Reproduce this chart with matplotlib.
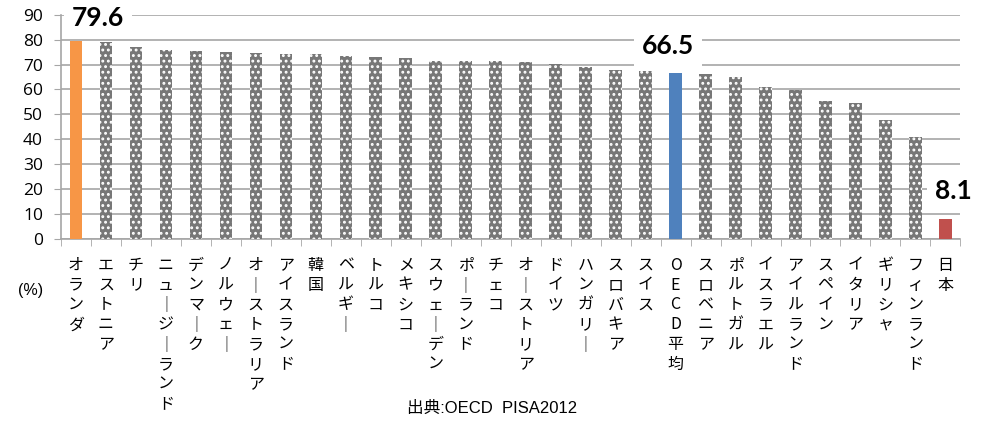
import numpy as np
import matplotlib
matplotlib.use('Agg')
import matplotlib.pyplot as plt

plt.rcParams['font.family'] = ['Noto Sans CJK JP', 'DejaVu Sans']
plt.rcParams['hatch.linewidth'] = 1.3

# data (%)
countries = ['オランダ', 'エストニア', 'チリ', 'ニュージーランド', 'デンマーク', 'ノルウェー',
             'オーストラリア', 'アイスランド', '韓国', 'ベルギー', 'トルコ', 'メキシコ',
             'スウェーデン', 'ポーランド', 'チェコ', 'オーストリア', 'ドイツ', 'ハンガリー',
             'スロバキア', 'スイス', 'OECD平均', 'スロベニア', 'ポルトガル', 'イスラエル',
             'アイルランド', 'スペイン', 'イタリア', 'ギリシャ', 'フィンランド', '日本']
values = [79.6, 79.0, 77.0, 75.8, 75.5, 75.2,
          74.6, 74.2, 74.2, 73.3, 73.0, 72.5,
          71.4, 71.3, 71.3, 71.2, 70.3, 69.1,
          67.8, 67.3, 66.5, 66.0, 64.9, 60.9,
          59.8, 55.5, 54.7, 47.5, 40.8, 8.1]
highlight = {'オランダ': '#F79646', 'OECD平均': '#4F81BD', '日本': '#C0504D'}
labelled = ['オランダ', 'OECD平均', '日本']


def vertical(s):
    # stack characters top to bottom, long vowel mark drawn as vertical bar
    return '\n'.join('│' if c == 'ー' else c for c in s)


fig = plt.figure(figsize=(9.84, 4.21), dpi=100)
ax = fig.add_axes([0.062, 0.433, 0.914, 0.532])

x = np.arange(len(countries))
for i, (name, v) in enumerate(zip(countries, values)):
    if name in highlight:
        ax.bar(i, v, width=0.42, color=highlight[name], linewidth=0, zorder=3)
    else:
        ax.bar(i, v, width=0.42, facecolor='#777777', edgecolor='white',
               hatch='...', linewidth=0, zorder=3)

ax.set_xlim(-0.5, len(countries) - 0.5)
ax.set_ylim(0, 90)
ax.set_yticks(np.arange(0, 91, 10))
ax.yaxis.grid(True, color='#a6a6a6', linewidth=1.2, zorder=0)
ax.set_axisbelow(True)

for s in ['top', 'right']:
    ax.spines[s].set_visible(False)
for s in ['left', 'bottom']:
    ax.spines[s].set_color('#a6a6a6')
    ax.spines[s].set_linewidth(1.2)

ax.tick_params(axis='y', length=5, color='#a6a6a6', labelsize=12.5, pad=8)
ax.set_xticks(np.arange(len(countries) + 1) - 0.5, minor=True)
ax.tick_params(axis='x', which='minor', length=5, color='#a6a6a6')
ax.set_xticks(x)
ax.set_xticklabels([vertical(c) for c in countries], fontsize=11.5,
                   linespacing=1.22, va='top')
ax.tick_params(axis='x', which='major', length=0, pad=13)
for lab in ax.get_yticklabels():
    lab.set_fontfamily(['Open Sans', 'DejaVu Sans'])

# data labels with white boxes hiding the grid lines
label_pos = {'オランダ': (0.73, 88.5), 'OECD平均': (19.75, 77.5), '日本': (29.25, 19.0)}
for name in labelled:
    v = values[countries.index(name)]
    lx, ly = label_pos[name]
    ax.text(lx, ly, f'{v:.1f}', ha='center', va='center', fontsize=19,
            fontweight='bold', family=['Lato', 'DejaVu Sans'], zorder=5, clip_on=False,
            bbox=dict(boxstyle='square,pad=0.3', facecolor='white', edgecolor='none'))

fig.text(31 / 984, 1 - 291 / 421, '(%)', ha='center', va='center', fontsize=11.5,
         family=['Liberation Sans', 'DejaVu Sans'])
fig.text(492 / 984, 1 - 408 / 421, '出典:OECD  PISA2012', ha='center', va='center',
         fontsize=12, family=['Liberation Sans', 'Noto Sans CJK JP'])

fig.savefig('out.png', dpi=100)
